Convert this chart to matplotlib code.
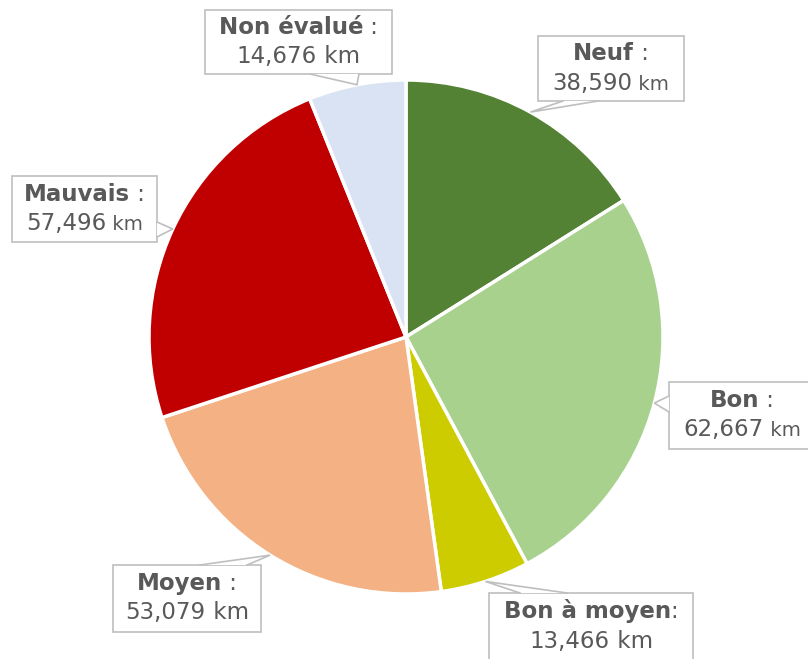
import matplotlib.pyplot as plt
import numpy as np
from matplotlib.patches import Rectangle, Polygon
from matplotlib.offsetbox import TextArea, HPacker, VPacker, AnnotationBbox

labels = ["Neuf", "Bon", "Bon à moyen", "Moyen", "Mauvais", "Non évalué"]
values = [38590, 62667, 13466, 53079, 57496, 14676]
value_text = ["38,590", "62,667", "13,466", "53,079", "57,496", "14,676"]
colors = ["#548235", "#A9D18E", "#CCCC00", "#F4B183", "#C00000", "#DAE3F3"]

# callout layout, pixel coords with origin top-left: box (x0, y0, x1, y1),
# side of notch and the notch base span along that side
boxes = [(538, 36, 684, 101), (669, 382, 815, 449), (489, 593, 693, 668),
         (113, 565, 261, 632), (12, 176, 157, 242), (205, 10, 392, 74)]
notch = [("bottom", 563, 598), ("left", 396, 412), ("top", 520, 567),
         ("top", 200, 247), ("right", 222, 237), ("bottom", 310, 359)]
seps = [" :", " :", ":", " :", " :", " :"]
km_small = [True, True, False, False, True, False]

W, H = 808, 659
fs = 16.5
txt_color = "#595959"
edge = "#BFBFBF"

fig = plt.figure(figsize=(W / 100, H / 100), dpi=100)
ax = fig.add_axes([0, 0, 1, 1])

def Y(y):
    return H - y

cx, cy, r = 406, 337, 257
wedges, _ = ax.pie(values, colors=colors, startangle=90, counterclock=False,
                   center=(cx, Y(cy)), radius=r,
                   wedgeprops=dict(edgecolor="white", linewidth=2.5))
ax.set_xlim(0, W)
ax.set_ylim(0, H)
ax.set_aspect("equal")
ax.axis("off")

for i, w in enumerate(wedges):
    mid = np.deg2rad((w.theta1 + w.theta2) / 2)
    tip = (cx + r * np.cos(mid), Y(cy) + r * np.sin(mid))
    x0, y0, x1, y1 = boxes[i]
    ax.add_patch(Rectangle((x0, Y(y1)), x1 - x0, y1 - y0, facecolor="white",
                           edgecolor=edge, linewidth=1.2, zorder=5))
    side, a, b = notch[i]
    if side == "bottom":
        p1, p2 = (a, Y(y1)), (b, Y(y1))
    elif side == "top":
        p1, p2 = (a, Y(y0)), (b, Y(y0))
    elif side == "left":
        p1, p2 = (x0, Y(a)), (x0, Y(b))
    else:
        p1, p2 = (x1, Y(a)), (x1, Y(b))
    ax.add_patch(Polygon([p1, tip, p2], closed=True, facecolor="white",
                         edgecolor="none", zorder=6))
    ax.plot([p1[0], tip[0], p2[0]], [p1[1], tip[1], p2[1]], color=edge,
            linewidth=1.2, zorder=7, solid_joinstyle="miter")

    line1 = HPacker(children=[
        TextArea(labels[i], textprops=dict(color=txt_color, fontsize=fs, fontweight="bold")),
        TextArea(seps[i], textprops=dict(color=txt_color, fontsize=fs))], pad=0, sep=0)
    kfs = fs * 0.87 if km_small[i] else fs
    line2 = HPacker(children=[
        TextArea(value_text[i], textprops=dict(color=txt_color, fontsize=fs)),
        TextArea(" km", textprops=dict(color=txt_color, fontsize=kfs))],
        pad=0, sep=0, align="baseline")
    pack = VPacker(children=[line1, line2], pad=0, sep=5, align="center")
    bcy = (y0 + min(y1, y0 + 66)) / 2
    ab = AnnotationBbox(pack, ((x0 + x1) / 2, Y(bcy)), xycoords="data",
                        frameon=False, box_alignment=(0.5, 0.5), zorder=8)
    ax.add_artist(ab)

fig.savefig("out.png", dpi=100)
